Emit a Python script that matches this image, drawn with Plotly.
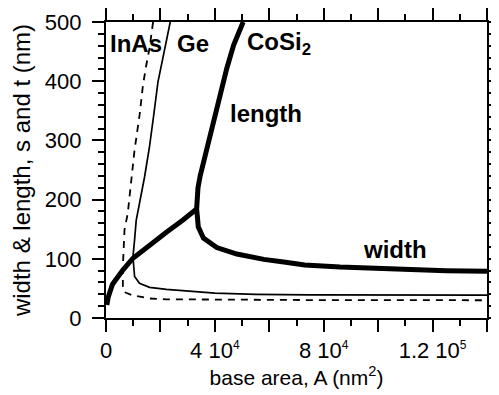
import plotly.graph_objects as go

# ---- data ----
# common (square) branch drawn with CoSi2 thick line
common_A = [300, 800, 2400, 4500, 6200, 9900, 16000, 22200, 28400, 33300]
common_s = [22, 35, 57, 72, 81, 101, 124, 145, 166, 184]

# CoSi2 length branch (from bifurcation upwards)
cosi2_len_A = [33300, 33400, 33800, 34600, 35600, 37000, 39500, 42000, 44400, 46900, 50400]
cosi2_len_s = [184, 200, 220, 240, 260, 290, 332, 377, 422, 461, 500]
# CoSi2 width branch
cosi2_wid_A = [33300, 33600, 33900, 35800, 40700, 48100, 58000, 66000, 73000, 86000, 106000, 125000, 140000]
cosi2_wid_s = [184, 170, 154, 135, 119, 108, 99, 94, 89.5, 86, 82.5, 80, 79]

# Ge branches
ge_len_A = [9900, 10200, 10500, 11100, 12300, 14200, 16000, 17600, 19100, 21000, 22200, 23600]
ge_len_s = [103, 120, 132, 165, 195, 239, 290, 345, 399, 439, 467, 500]
ge_wid_A = [9900, 10200, 10500, 12300, 16000, 22200, 29600, 40000, 55000, 75000, 140000]
ge_wid_s = [103, 87, 70, 58.6, 51.8, 48.5, 46, 42, 40, 39, 38.5]

# InAs branches
inas_len_A = [6200, 6300, 6500, 6800, 8000, 8600, 9300, 10500, 11500, 12400, 13600, 14800, 16000, 17300]
inas_len_s = [87, 110, 126, 149, 177, 199, 233, 284, 315, 345, 394, 427, 456, 500]
inas_wid_A = [6200, 6200, 6600, 9300, 16000, 22200, 40000, 80000, 140000]
inas_wid_s = [87, 53, 44, 39, 33, 31.6, 31, 30.2, 30]

SUP = "<sup><span style='font-size:12px'>%s</span></sup>"
x_tickvals = [0, 20000, 40000, 60000, 80000, 100000, 120000, 140000]
x_ticktext = ["0", "", "4 10" + SUP % "4", "", "8 10" + SUP % "4", "", "1.2 10" + SUP % "5", ""]
y_tickvals = [0, 100, 200, 300, 400, 500]
y_ticktext = ["0\u00a0", "100\u00a0", "200\u00a0", "300\u00a0", "400\u00a0", "500\u00a0"]

labels = ["InAs", "Ge", "CoSi<sub>2</sub>", "length", "width"]
label_A = [900, 25300, 51200, 44900, 93800]
label_s = [464, 464, 464, 346, 116.5]

FONT = "Liberation Sans, Arial, Helvetica, sans-serif"

def path(lenA, lenS, widA, widS):
    xs = list(reversed(lenA)) + widA[1:]
    ys = list(reversed(lenS)) + widS[1:]
    return xs, ys

fig = go.Figure()

x, y = path(inas_len_A, inas_len_s, inas_wid_A, inas_wid_s)
fig.add_trace(go.Scatter(x=x, y=y, mode="lines", name="InAs",
                         line=dict(color="black", width=1.8, dash="7px,6px")))
x, y = path(ge_len_A, ge_len_s, ge_wid_A, ge_wid_s)
fig.add_trace(go.Scatter(x=x, y=y, mode="lines", name="Ge",
                         line=dict(color="black", width=1.7)))
fig.add_trace(go.Scatter(x=common_A, y=common_s, mode="lines", name="common",
                         line=dict(color="black", width=5)))
x, y = path(cosi2_len_A, cosi2_len_s, cosi2_wid_A, cosi2_wid_s)
fig.add_trace(go.Scatter(x=x, y=y, mode="lines", name="CoSi2",
                         line=dict(color="black", width=5)))

for t, a, s in zip(labels, label_A, label_s):
    fig.add_annotation(x=a, y=s, text="<b>%s</b>" % t, showarrow=False,
                       xanchor="left", yanchor="middle",
                       font=dict(family=FONT, size=24, color="black"))

axis_common = dict(showline=True, linecolor="black", linewidth=2, mirror="ticks",
                   ticks="outside", ticklen=12, tickwidth=2, tickcolor="black",
                   showgrid=False, zeroline=False, automargin=False,
                   tickfont=dict(family=FONT, size=22, color="black"))

# page body has an 8px margin: figure occupies (8,8)-(499,395)
fig.update_layout(
    width=491, height=387,
    margin=dict(l=98, r=12, t=14, b=77),
    paper_bgcolor="white", plot_bgcolor="white",
    showlegend=False,
    xaxis=dict(range=[0, 140000], tickmode="array", tickvals=x_tickvals, ticktext=x_ticktext,
               minor=dict(dtick=10000, ticks="outside", ticklen=6, tickwidth=2, tickcolor="black"),
               title=dict(text="base area, A (nm<sup>2</sup>)", standoff=6,
                          font=dict(family=FONT, size=21, color="black")),
               **axis_common),
    yaxis=dict(range=[0, 500], tickmode="array", tickvals=y_tickvals, ticktext=y_ticktext,
               minor=dict(dtick=20, ticks="outside", ticklen=6, tickwidth=2, tickcolor="black"),
               title=dict(text="width & length, s and t (nm)", standoff=8,
                          font=dict(family=FONT, size=24, color="black")),
               **axis_common),
)

fig.write_html("out.html")
